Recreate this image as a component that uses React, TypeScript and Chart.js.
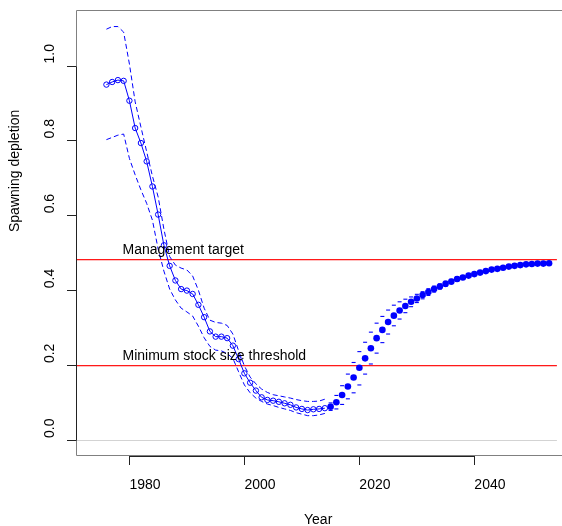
import React, { useEffect, useRef } from "react";
import { Chart, registerables } from "chart.js";

Chart.register(...registerables);

// ---------- data ----------
const histYears = [1976, 1977, 1978, 1979, 1980, 1981, 1982, 1983, 1984, 1985, 1986, 1987, 1988, 1989, 1990, 1991, 1992, 1993, 1994, 1995, 1996, 1997, 1998, 1999, 2000, 2001, 2002, 2003, 2004, 2005, 2006, 2007, 2008, 2009, 2010, 2011, 2012, 2013, 2014];
const histValues = [0.949, 0.956, 0.961, 0.959, 0.906, 0.833, 0.793, 0.744, 0.677, 0.602, 0.52, 0.465, 0.426, 0.403, 0.399, 0.39, 0.361, 0.328, 0.29, 0.276, 0.276, 0.272, 0.252, 0.216, 0.178, 0.153, 0.132, 0.114, 0.107, 0.105, 0.102, 0.098, 0.094, 0.087, 0.083, 0.08, 0.082, 0.083, 0.085];
const histUpper = [1.097, 1.104, 1.104, 1.089, 1.004, 0.903, 0.836, 0.77, 0.705, 0.649, 0.563, 0.49, 0.467, 0.459, 0.454, 0.438, 0.4, 0.352, 0.32, 0.314, 0.312, 0.306, 0.283, 0.238, 0.198, 0.168, 0.15, 0.136, 0.127, 0.121, 0.118, 0.115, 0.112, 0.108, 0.105, 0.103, 0.103, 0.104, 0.109];
const histLower = [0.802, 0.808, 0.814, 0.817, 0.752, 0.708, 0.668, 0.632, 0.587, 0.51, 0.451, 0.403, 0.374, 0.352, 0.342, 0.331, 0.304, 0.273, 0.25, 0.24, 0.238, 0.231, 0.218, 0.182, 0.147, 0.126, 0.112, 0.103, 0.096, 0.092, 0.087, 0.083, 0.079, 0.073, 0.069, 0.065, 0.065, 0.067, 0.071];

const fcYears = [2015, 2016, 2017, 2018, 2019, 2020, 2021, 2022, 2023, 2024, 2025, 2026, 2027, 2028, 2029, 2030, 2031, 2032, 2033, 2034, 2035, 2036, 2037, 2038, 2039, 2040, 2041, 2042, 2043, 2044, 2045, 2046, 2047, 2048, 2049, 2050, 2051, 2052, 2053];
const fcValues = [0.089, 0.101, 0.12, 0.143, 0.167, 0.193, 0.218, 0.245, 0.272, 0.294, 0.315, 0.332, 0.346, 0.358, 0.369, 0.378, 0.387, 0.395, 0.403, 0.41, 0.417, 0.423, 0.43, 0.434, 0.439, 0.443, 0.447, 0.451, 0.455, 0.457, 0.46, 0.463, 0.465, 0.467, 0.469, 0.47, 0.471, 0.471, 0.472];
const fcUpper = [0.099, 0.119, 0.145, 0.176, 0.207, 0.236, 0.261, 0.288, 0.312, 0.33, 0.347, 0.36, 0.369, 0.376, 0.382, 0.389, 0.396, 0.404, 0.411, 0.417, 0.424, 0.429, 0.436, 0.439, 0.444, 0.447, 0.451, 0.455, 0.459, 0.461, 0.464, 0.467, 0.469, 0.471, 0.473, 0.474, 0.475, 0.475, 0.476];
const fcLower = [0.079, 0.083, 0.095, 0.11, 0.126, 0.147, 0.176, 0.203, 0.232, 0.26, 0.283, 0.305, 0.323, 0.34, 0.356, 0.367, 0.377, 0.386, 0.395, 0.403, 0.41, 0.417, 0.424, 0.429, 0.434, 0.439, 0.443, 0.447, 0.451, 0.453, 0.456, 0.459, 0.461, 0.463, 0.465, 0.466, 0.467, 0.467, 0.468];

const xTicks = [1980, 2000, 2020, 2040];
const xTickLabels = ["1980", "2000", "2020", "2040"];
const yTicks = [0, 0.2, 0.4, 0.6, 0.8, 1.0];
const yTickLabels = ["0.0", "0.2", "0.4", "0.6", "0.8", "1.0"];

const refValues = [0.482, 0.2];
const refLabels = ["Management target", "Minimum stock size threshold"];
const refLabelX = 1978.8;
const zeroValue = 0;

const xTitle = "Year";
const yTitle = "Spawning depletion";

const xMin = 1970.71;
const xMax = 2054.36;
const yMin = -0.0427;
const yMax = 1.1482;

// ---------- helpers ----------
const pts = (xs: number[], ys: number[]) => xs.map((x, i) => ({ x, y: ys[i] }));
const FONT = '14px "Liberation Sans", Arial, Helvetica, sans-serif';
const BLUE = "#0000FF";
const RED = "rgb(255, 0, 0)";

const rPlot = {
  id: "rPlot",
  beforeDatasetsDraw(chart: any) {
    const { ctx, chartArea: a, scales } = chart;
    const ys = scales.y;
    ctx.save();
    // zero line
    const z = Math.round(ys.getPixelForValue(zeroValue)) + 0.5;
    ctx.lineWidth = 1;
    ctx.strokeStyle = "#D3D3D3";
    ctx.beginPath();
    ctx.moveTo(a.left, z);
    ctx.lineTo(a.right, z);
    ctx.stroke();
    // reference lines
    ctx.fillStyle = RED;
    refValues.forEach((v) => {
      const p = Math.round(ys.getPixelForValue(v));
      ctx.globalAlpha = 0.9;
      ctx.fillRect(a.left, p, a.right - a.left, 1);
      ctx.globalAlpha = 0.25;
      ctx.fillRect(a.left, p + 1, a.right - a.left, 1);
      ctx.globalAlpha = 1;
    });
    ctx.restore();
  },
  afterDatasetsDraw(chart: any) {
    const { ctx, chartArea: a, scales, width } = chart;
    const xs = scales.x;
    const ys = scales.y;
    ctx.save();

    // plot box (no right side visible)
    ctx.strokeStyle = "#808080";
    ctx.lineWidth = 1;
    ctx.beginPath();
    ctx.moveTo(width, a.top + 0.5);
    ctx.lineTo(a.left + 0.5, a.top + 0.5);
    ctx.lineTo(a.left + 0.5, a.bottom - 0.5);
    ctx.lineTo(width, a.bottom - 0.5);
    ctx.stroke();

    // x axis
    ctx.strokeStyle = "#222";
    const xp = xTicks.map((t) => Math.round(xs.getPixelForValue(t)) + 0.5);
    ctx.beginPath();
    ctx.moveTo(xp[0], a.bottom + 0.5);
    ctx.lineTo(xp[xp.length - 1], a.bottom + 0.5);
    xp.forEach((p) => {
      ctx.moveTo(p, a.bottom);
      ctx.lineTo(p, a.bottom + 9);
    });
    ctx.stroke();

    ctx.fillStyle = "#000";
    ctx.font = FONT;
    ctx.textAlign = "left";
    ctx.textBaseline = "alphabetic";
    xTicks.forEach((t, i) => {
      ctx.fillText(xTickLabels[i], xs.getPixelForValue(t), a.bottom + 32.5);
    });

    // y axis
    const yp = yTicks.map((t) => Math.round(ys.getPixelForValue(t)) + 0.5);
    ctx.beginPath();
    ctx.moveTo(a.left + 0.5, yp[0]);
    ctx.lineTo(a.left + 0.5, yp[yp.length - 1]);
    yp.forEach((p) => {
      ctx.moveTo(a.left, p);
      ctx.lineTo(a.left - 9, p);
    });
    ctx.stroke();

    yTicks.forEach((t, i) => {
      ctx.save();
      ctx.translate(a.left - 22, ys.getPixelForValue(t) - 2);
      ctx.rotate(-Math.PI / 2);
      ctx.fillText(yTickLabels[i], 0, 0);
      ctx.restore();
    });

    // axis titles
    ctx.fillText(xTitle, 304, a.bottom + 68);
    ctx.save();
    ctx.translate(19, (a.top + a.bottom) / 2 - 1);
    ctx.rotate(-Math.PI / 2);
    ctx.fillText(yTitle, 0, 0);
    ctx.restore();

    // reference line labels
    refValues.forEach((v, i) => {
      ctx.fillText(refLabels[i], xs.getPixelForValue(refLabelX), ys.getPixelForValue(v) - 5);
    });

    ctx.restore();
  },
};

export default function App() {
  const ref = useRef<HTMLCanvasElement | null>(null);

  useEffect(() => {
    if (!ref.current) return;
    const chart = new Chart(ref.current, {
      type: "scatter",
      data: {
        datasets: [
          {
            label: "forecast",
            data: pts(fcYears, fcValues),
            showLine: false,
            pointStyle: "circle",
            pointRadius: 3.3,
            pointBorderWidth: 0,
            pointBackgroundColor: BLUE,
            borderColor: BLUE,
            backgroundColor: BLUE,
          },
          {
            label: "forecast upper",
            data: pts(fcYears, fcUpper),
            showLine: false,
            pointStyle: "line",
            pointRadius: 2,
            pointBorderWidth: 1.1,
            pointBorderColor: BLUE,
            borderColor: BLUE,
            backgroundColor: BLUE,
          },
          {
            label: "forecast lower",
            data: pts(fcYears, fcLower),
            showLine: false,
            pointStyle: "line",
            pointRadius: 2,
            pointBorderWidth: 1.1,
            pointBorderColor: BLUE,
            borderColor: BLUE,
            backgroundColor: BLUE,
          },
          {
            label: "estimate",
            data: pts(histYears, histValues),
            showLine: true,
            borderColor: BLUE,
            backgroundColor: BLUE,
            borderWidth: 1,
            pointStyle: "circle",
            pointRadius: 2.7,
            pointBorderWidth: 1,
            pointBorderColor: BLUE,
            pointBackgroundColor: "rgba(0,0,0,0)",
          },
          {
            label: "upper",
            data: pts(histYears, histUpper),
            showLine: true,
            borderColor: BLUE,
            backgroundColor: BLUE,
            borderWidth: 1,
            borderDash: [5, 3],
            pointRadius: 0,
          },
          {
            label: "lower",
            data: pts(histYears, histLower),
            showLine: true,
            borderColor: BLUE,
            backgroundColor: BLUE,
            borderWidth: 1,
            borderDash: [5, 3],
            pointRadius: 0,
          },
        ],
      },
      options: {
        animation: false,
        responsive: false,
        devicePixelRatio: 1,
        layout: { padding: { left: 76, top: 10, right: 0, bottom: 70 } },
        plugins: { legend: { display: false }, tooltip: { enabled: false } },
        events: [],
        scales: {
          x: { type: "linear", min: xMin, max: xMax, display: false },
          y: { type: "linear", min: yMin, max: yMax, display: false },
        },
      },
      plugins: [rPlot],
    });
    return () => chart.destroy();
  }, []);

  return (
    <div style={{ position: "fixed", left: 0, top: 0, width: 562, height: 526, background: "#fff" }}>
      <canvas ref={ref} width={562} height={526} style={{ display: "block" }} />
    </div>
  );
}
